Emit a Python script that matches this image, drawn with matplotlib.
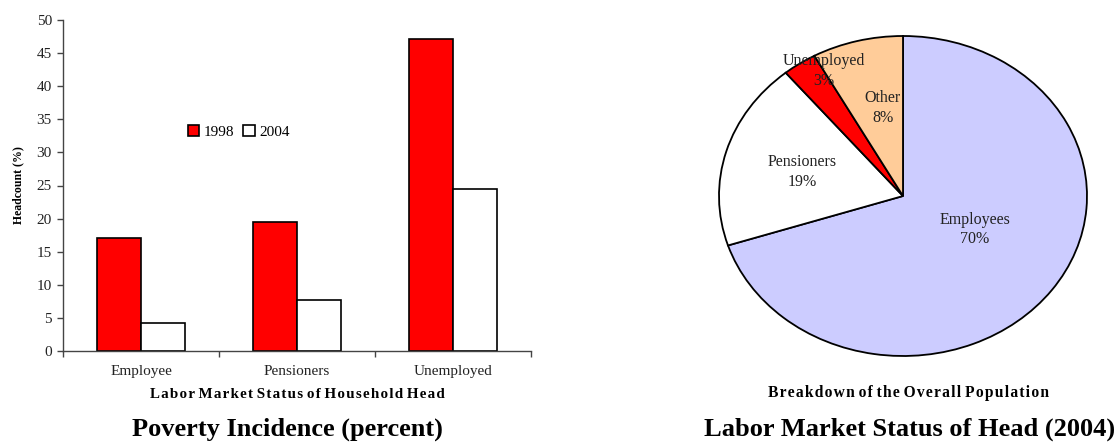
import matplotlib
matplotlib.use("Agg")
import matplotlib.pyplot as plt
import numpy as np

# ---- data ----
categories = ["Employee", "Pensioners", "Unemployed"]
years = ["1998", "2004"]
headcount_1998 = [17.1, 19.5, 47.1]
headcount_2004 = [4.3, 7.7, 24.4]

pie_labels = ["Employees", "Pensioners", "Unemployed", "Other"]
pie_shares = [70, 19, 3, 8]

# ---- style ----
plt.rcParams["font.family"] = ["Liberation Serif", "DejaVu Serif"]
RED = "#FF0000"
WHITE = "#FFFFFF"
LAVENDER = "#CCCCFF"
PEACH = "#FFCC99"
W, H = 1117, 447


def spaced(text):
    """Letter-spaced caption: hair spaces between letters."""
    return " ".join("\u200a".join(word) for word in text.split(" "))


fig = plt.figure(figsize=(W / 100, H / 100), dpi=100)

# ---- bar chart: poverty incidence ----
ax = fig.add_axes([63 / W, 1 - 351 / H, (531 - 63) / W, (351 - 20) / H])
x = np.arange(len(categories))
bw = 0.28
ax.bar(x - bw / 2, headcount_1998, bw, color=RED, edgecolor="black", linewidth=1.2, label=years[0])
ax.bar(x + bw / 2, headcount_2004, bw, color=WHITE, edgecolor="black", linewidth=1.2, label=years[1])
ax.set_xlim(-0.5, len(categories) - 0.5)
ax.set_ylim(0, 50)
ax.set_yticks(np.arange(0, 51, 5))
ax.set_xticks(x)
ax.set_xticklabels(categories, fontsize=11)
ax.set_xticks(np.arange(-0.5, len(categories), 1.0), minor=True)
ax.tick_params(axis="x", which="major", length=0, pad=10, colors="#222222")
ax.tick_params(axis="x", which="minor", length=4, width=1, direction="out", color="#444444")
ax.tick_params(axis="y", length=4, width=1, direction="out", labelsize=11, pad=4,
               color="#444444", labelcolor="#222222")
for s in ("top", "right"):
    ax.spines[s].set_visible(False)
for s in ("left", "bottom"):
    ax.spines[s].set_linewidth(1.0)
    ax.spines[s].set_color("#444444")
ax.set_ylabel("Headcount (%)", fontsize=8.5, fontweight="bold", labelpad=9)
ax.set_xlabel(spaced("Labor Market Status of Household Head"),
              fontsize=10.8, fontweight="bold", labelpad=7)
leg = ax.legend(loc="upper left", bbox_to_anchor=(0.25, 0.706), ncol=2, frameon=False,
                fontsize=11, handlelength=0.75, handleheight=0.75, handletextpad=0.3,
                columnspacing=0.6, borderpad=0)

fig.text(287 / W, 1 - 429 / H, "Poverty Incidence (percent)", ha="center", va="center",
         fontsize=19, fontweight="bold")

# ---- pie chart: labour market status ----
cx, cy, rx, ry = 903, 196, 184, 160
pax = fig.add_axes([(cx - rx) / W, 1 - (cy + ry) / H, 2 * rx / W, 2 * ry / H])
wedges, _ = pax.pie(pie_shares, colors=[LAVENDER, WHITE, RED, PEACH], startangle=90,
                    counterclock=False, radius=1.0,
                    wedgeprops=dict(edgecolor="black", linewidth=1.3))
for w in wedges:
    w.set_clip_on(False)
pax.set_aspect("auto")
pax.set_xlim(-1, 1)
pax.set_ylim(-1, 1)
pax.axis("off")

label_pos = [(0.39, -0.21), (-0.55, 0.15), (-0.43, 0.78), (-0.11, 0.55)]
for name, share, (lx, ly) in zip(pie_labels, pie_shares, label_pos):
    pax.text(lx, ly, f"{name}\n{share}%", ha="center", va="center", fontsize=11.5,
             color="#222222", linespacing=1.3)

fig.text(908 / W, 1 - 393 / H, spaced("Breakdown of the Overall Population"),
         ha="center", va="center", fontsize=11.2, fontweight="bold")
fig.text(910 / W, 1 - 429 / H, "Labor Market Status of Head (2004)", ha="center", va="center",
         fontsize=19, fontweight="bold")

fig.savefig("out.png", dpi=100)
